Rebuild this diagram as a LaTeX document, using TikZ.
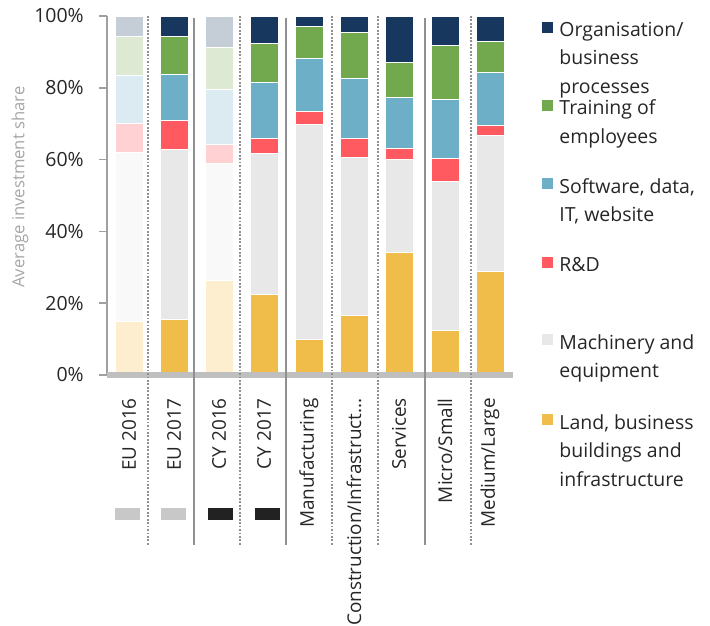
\documentclass[tikz,border=0pt]{standalone}
\usepackage{fontspec}
\setmainfont{Open Sans}
\usetikzlibrary{positioning}
\definecolor{orgN}{HTML}{17375E}
\definecolor{trainN}{HTML}{72A94F}
\definecolor{softN}{HTML}{6DAFC7}
\definecolor{rdN}{HTML}{FF5A5F}
\definecolor{machN}{HTML}{E8E8E8}
\definecolor{landN}{HTML}{F1BD4A}
\definecolor{orgF}{HTML}{C5CDD7}
\definecolor{trainF}{HTML}{DDE9D2}
\definecolor{softF}{HTML}{DCEAF1}
\definecolor{rdF}{HTML}{FFD1D3}
\definecolor{machF}{HTML}{F9F9F9}
\definecolor{landF}{HTML}{FCEECF}
\definecolor{sepgray}{HTML}{8E9092}
\definecolor{dotgray}{HTML}{909090}
\definecolor{axisgray}{HTML}{A0A0A0}
\definecolor{bandgray}{HTML}{BFBFBF}
\definecolor{ylabgray}{HTML}{A6A6A6}
\definecolor{tagEU}{HTML}{C8C8C8}
\definecolor{tagCY}{HTML}{222222}
\definecolor{txt}{HTML}{262626}
\tikzset{
  seg/.style={draw=white,line width=0.6pt},
  solidsep/.style={sepgray,line width=2.2pt},
  dotsep/.style={dotgray,line width=1.6pt,dash pattern=on 1.4pt off 1.2pt},
  lbl/.style={font=\fontsize{14.6}{17}\selectfont,text=txt,inner sep=0pt},
  catlbl/.style={lbl,rotate=90,anchor=east,font=\fontsize{14.2}{17}\selectfont},
  legbox/.style={minimum size=8.25pt,inner sep=0pt},
  tagbox/.style={minimum width=18.75pt,minimum height=9pt,inner sep=0pt},
  legtext/.style={lbl,align=left,font=\fontsize{14.6}{21.4}\selectfont}
}
\begin{document}
\begin{tikzpicture}[x=0.75pt,y=0.75pt]
\useasboundingbox (0,0) rectangle (710,625);
\begin{scope}[yshift=187.5pt,y=2.6925pt]
  \foreach \i/\xl/\a/\b/\c/\d/\e/\s in {1/115/15.0/62.0/70.1/83.4/94.2/F,
      2/160/15.6/62.8/70.9/83.8/94.3/N, 3/205/26.3/58.9/64.1/79.6/91.2/F,
      4/250/22.5/61.6/65.8/81.4/92.4/N, 5/295/9.9/69.9/73.5/88.1/97.2/N,
      6/340/16.6/60.6/65.8/82.6/95.4/N, 7/385/34.1/60.0/63.0/77.3/87.0/N,
      8/431/12.5/53.8/60.2/76.8/91.9/N, 9/476/28.8/66.8/69.6/84.3/92.8/N}
  {
    \draw[seg,fill=land\s] (\xl,0) rectangle (\xl+28,\a);
    \draw[seg,fill=mach\s] (\xl,\a) rectangle (\xl+28,\b);
    \draw[seg,fill=rd\s] (\xl,\b) rectangle (\xl+28,\c);
    \draw[seg,fill=soft\s] (\xl,\c) rectangle (\xl+28,\d);
    \draw[seg,fill=train\s] (\xl,\d) rectangle (\xl+28,\e);
    \draw[seg,fill=org\s] (\xl,\e) rectangle (\xl+28,100);
  }
\end{scope}
\draw[axisgray,line width=1.1pt] (107,609) -- (107,250);
\foreach \p in {0,20,...,100}
{
  \draw[axisgray,line width=1.1pt] (99,250+3.59*\p) -- (107,250+3.59*\p);
  \node[lbl,anchor=east] (t\p) at (84,250+3.59*\p) {\p\%};
}
\fill[bandgray] (107,247) rectangle (513,253);
\foreach \x in {148,240,332,378,471}
  \draw[dotsep] (\x,609) -- (\x,80);
\foreach \x in {194,286,425}
  \draw[solidsep] (\x,607) -- (\x,80);
\node[lbl,text=ylabgray,rotate=90,font=\fontsize{12.5}{15}\selectfont] (ylab) at (20,438) {Average investment share};
\foreach \i/\x/\t in {1/129/EU 2016, 2/174/EU 2017, 3/219/CY 2016, 4/264/CY 2017,
    5/309/Manufacturing, 6/354/{Construction/Infrastruct...}, 7/399/Services,
    8/445/{Micro/Small}, 9/490/{Medium/Large}}
  \node[catlbl] (c\i) at (\x,227) {\t};
\foreach \i/\x/\c in {1/127.5/tagEU, 2/173/tagEU, 3/220/tagCY, 4/267.5/tagCY}
  \node[tagbox,fill=\c] (s\i) at (\x,111) {};
\foreach \i/\y/\c/\t in {1/597.5/orgN/{Organisation/\\business\\processes},
    2/519.5/trainN/{Training of\\employees}, 3/441/softN/{Software, data,\\IT, website},
    4/362/rdN/{R\&D}, 5/285/machN/{Machinery and\\equipment},
    6/205/landN/{Land, business\\buildings and\\infrastructure}}
{
  \node[legbox,fill=\c] (l\i) at (547,\y) {};
  \node[legtext,right=4.8pt of l\i.north east,anchor=north west] (lt\i) {\t};
}
\end{tikzpicture}
\end{document}
